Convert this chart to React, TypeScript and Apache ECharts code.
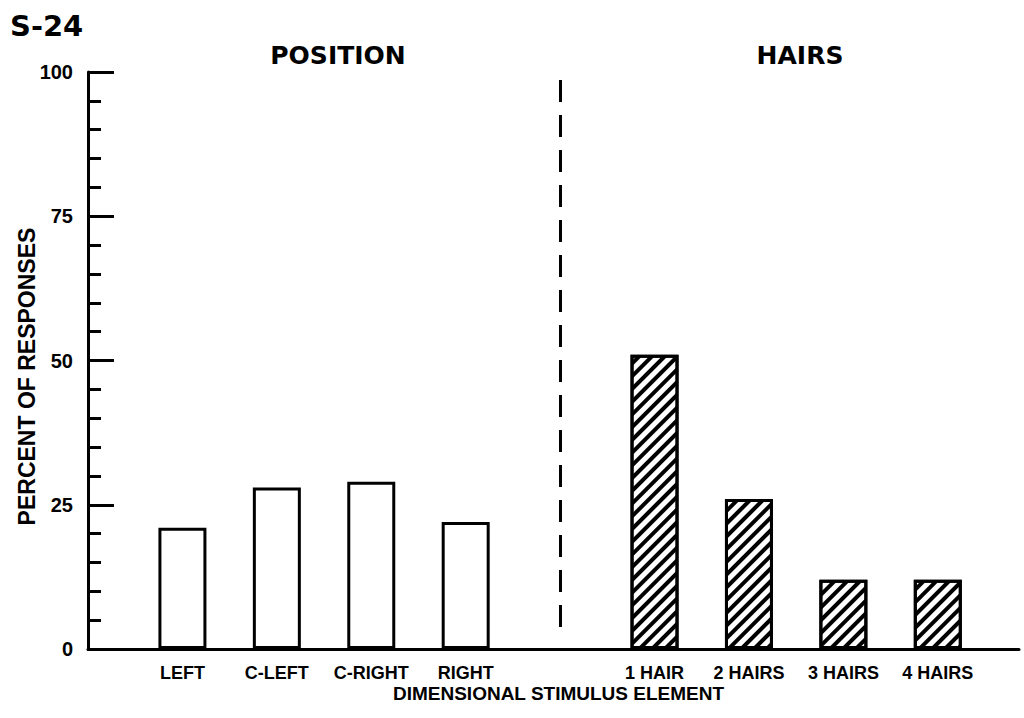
import React, { useEffect, useRef } from "react";
import * as echarts from "echarts";

const positionLabels = ["LEFT", "C-LEFT", "C-RIGHT", "RIGHT"];
const positionValues = [21, 28, 29, 22];
const hairLabels = ["1 HAIR", "2 HAIRS", "3 HAIRS", "4 HAIRS"];
const hairValues = [51, 26, 12, 12];
const yTickLabels = [0, 25, 50, 75, 100];
const categories = [...positionLabels, "", ...hairLabels];
const dividerIndex = 4;

const NARROW = "'Liberation Sans', Arial, sans-serif";
const WIDE = "'DejaVu Sans', 'Verdana', sans-serif";

export default function App() {
  const ref = useRef<HTMLDivElement>(null);
  useEffect(() => {
    if (!ref.current) return;
    const chart = echarts.init(ref.current, null, { renderer: "svg" });
    const posData = positionValues.map((v, i) => [i, v]);
    const hairData = hairValues.map((v, i) => [dividerIndex + 1 + i, v]);
    const labelValues = categories.map((c, i) => (c ? i : null)).filter((v) => v !== null);
    chart.setOption({
      animation: false,
      backgroundColor: "#fff",
      grid: { left: 88, right: 5, top: 72, bottom: 69, containLabel: false, outerBoundsMode: "none" },
      graphic: [
        { type: "text", x: 10, y: 26, style: { text: "S-24", font: `bold 29px ${WIDE}`, fill: "#000", textVerticalAlign: "middle" } },
        { type: "text", x: 338, y: 55, style: { text: "POSITION", font: `bold 25px ${WIDE}`, fill: "#000", textAlign: "center", textVerticalAlign: "middle" } },
        { type: "text", x: 800, y: 55, style: { text: "HAIRS", font: `bold 25px ${WIDE}`, fill: "#000", textAlign: "center", textVerticalAlign: "middle" } },
      ],
      xAxis: {
        type: "value",
        min: -1,
        max: 8.86,
        splitLine: { show: false },
        axisLine: { show: true, onZero: false, lineStyle: { color: "#000", width: 3 } },
        axisTick: { show: false },
        axisLabel: {
          customValues: labelValues,
          formatter: (v: number) => categories[Math.round(v)] ?? "",
          color: "#000",
          fontFamily: NARROW,
          fontWeight: "bold",
          fontSize: 18,
          lineHeight: 16,
          margin: 16,
        },
        name: "DIMENSIONAL STIMULUS ELEMENT",
        nameLocation: "middle",
        nameGap: 36,
        nameMoveOverlap: false,
        nameTextStyle: { color: "#000", fontFamily: NARROW, fontWeight: "bold", fontSize: 19, lineHeight: 17, padding: [0, 0, 0, 10] },
      },
      yAxis: {
        type: "value",
        min: 0,
        max: 100,
        interval: 25,
        splitLine: { show: false },
        axisLine: { show: true, onZero: false, lineStyle: { color: "#000", width: 3 } },
        axisTick: { show: true, inside: true, length: 26, lineStyle: { color: "#000", width: 3 } },
        minorTick: { show: true, splitNumber: 5, length: 13, lineStyle: { color: "#000", width: 3 } },
        axisLabel: {
          color: "#000",
          fontFamily: NARROW,
          fontWeight: "bold",
          fontSize: 20,
          margin: 15,
          customValues: yTickLabels,
        },
        name: "PERCENT OF RESPONSES",
        nameLocation: "middle",
        nameGap: 50,
        nameMoveOverlap: false,
        nameTextStyle: { color: "#000", fontFamily: NARROW, fontWeight: "bold", fontSize: 23, padding: [0, 32, 0, 0] },
      },
      series: [
        {
          type: "bar",
          name: "POSITION",
          data: posData,
          barWidth: 48,
          barGap: "-100%",
          itemStyle: { color: "#fff", borderColor: "#000", borderWidth: 3 },
        },
        {
          type: "bar",
          name: "HAIRS",
          data: hairData,
          barWidth: 48,
          barGap: "-100%",
          itemStyle: {
            color: "#fff",
            borderColor: "#000",
            borderWidth: 3,
            decal: {
              symbol: "rect",
              symbolSize: 1,
              color: "#000",
              backgroundColor: "#fff",
              dashArrayX: [1, 0],
              dashArrayY: [3.5, 4.5],
              rotation: -Math.PI / 4,
            },
          },
          markLine: {
            silent: true,
            symbol: ["none", "none"],
            label: { show: false },
            lineStyle: { color: "#000", width: 3, type: [22, 13] },
            data: [[{ coord: [dividerIndex, 98.6] }, { coord: [dividerIndex, 1.9] }]],
          },
        },
      ],
    });
    return () => chart.dispose();
  }, []);
  return <div ref={ref} style={{ position: "fixed", left: 0, top: 0, width: 1024, height: 718 }} />;
}
